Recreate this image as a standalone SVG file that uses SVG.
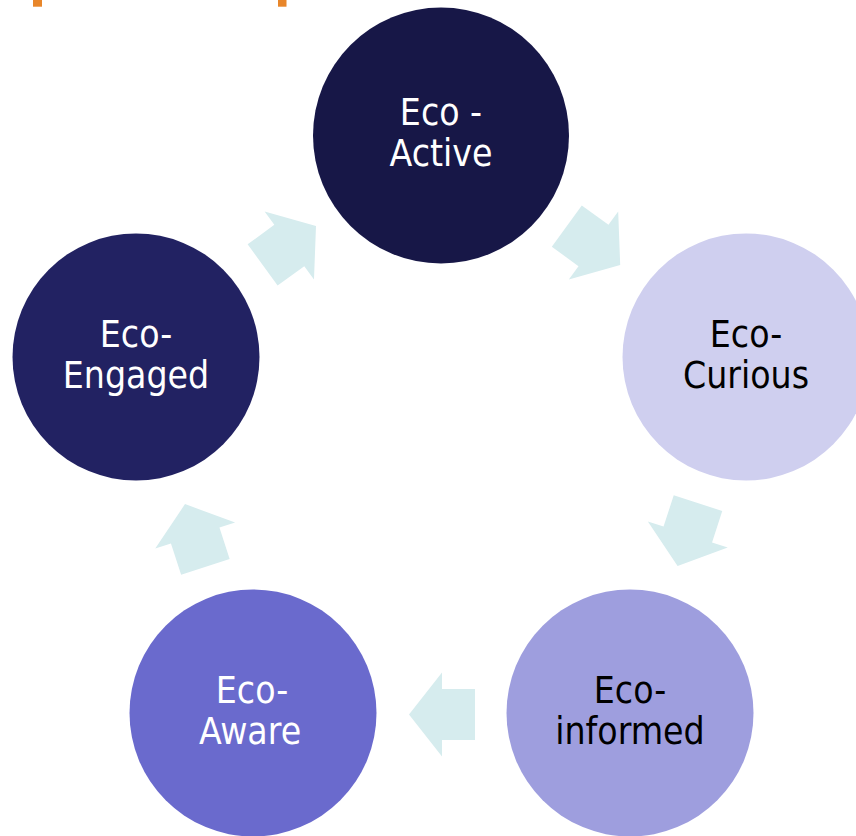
<svg xmlns="http://www.w3.org/2000/svg" width="856" height="836" viewBox="0 0 856 836">
<style>
.lbl{font-family:"DejaVu Sans Condensed","DejaVu Sans",sans-serif;font-stretch:condensed;font-size:37px;text-anchor:middle}
.w{fill:#ffffff}
.b{fill:#000000}
.arr{fill:#d6ecee}
</style>
<defs>
<polygon id="arrow" points="-33,-25.5 0,-25.5 0,-42 33,0 0,42 0,25.5 -33,25.5"/>
</defs>
<rect width="856" height="836" fill="#ffffff"/>
<rect x="33" y="0" width="9" height="6.7" fill="#e8862a"/>
<rect x="278" y="0" width="8.5" height="6.7" fill="#e8862a"/>
<g id="connectors" class="arr">
<use href="#arrow" transform="translate(593.5,245.5) rotate(36)"/>
<use href="#arrow" transform="translate(687.8,534.5) rotate(108)"/>
<use href="#arrow" transform="translate(442,714.5) rotate(180)"/>
<use href="#arrow" transform="translate(195.2,535.5) rotate(252)"/>
<use href="#arrow" transform="translate(289.3,245.5) rotate(324)"/>
</g>
<g id="eco-active">
<circle cx="441" cy="135.5" r="128" fill="#171747"/>
<text class="lbl w" x="441" y="125">Eco -</text>
<text class="lbl w" x="441" y="165.5">Active</text>
</g>
<g id="eco-curious">
<circle cx="746" cy="357" r="123.5" fill="#cfcfef"/>
<text class="lbl b" x="746" y="347">Eco-</text>
<text class="lbl b" x="746" y="387.5">Curious</text>
</g>
<g id="eco-informed">
<circle cx="630" cy="713" r="123.5" fill="#9e9ede"/>
<text class="lbl b" x="630" y="703">Eco-</text>
<text class="lbl b" x="630" y="743.5">informed</text>
</g>
<g id="eco-aware">
<circle cx="253" cy="713" r="123.5" fill="#6a6acd"/>
<text class="lbl w" x="252" y="703">Eco-</text>
<text class="lbl w" x="250" y="743.5">Aware</text>
</g>
<g id="eco-engaged">
<circle cx="136" cy="357" r="123.5" fill="#222262"/>
<text class="lbl w" x="136" y="347">Eco-</text>
<text class="lbl w" x="136" y="387.5">Engaged</text>
</g>
</svg>
